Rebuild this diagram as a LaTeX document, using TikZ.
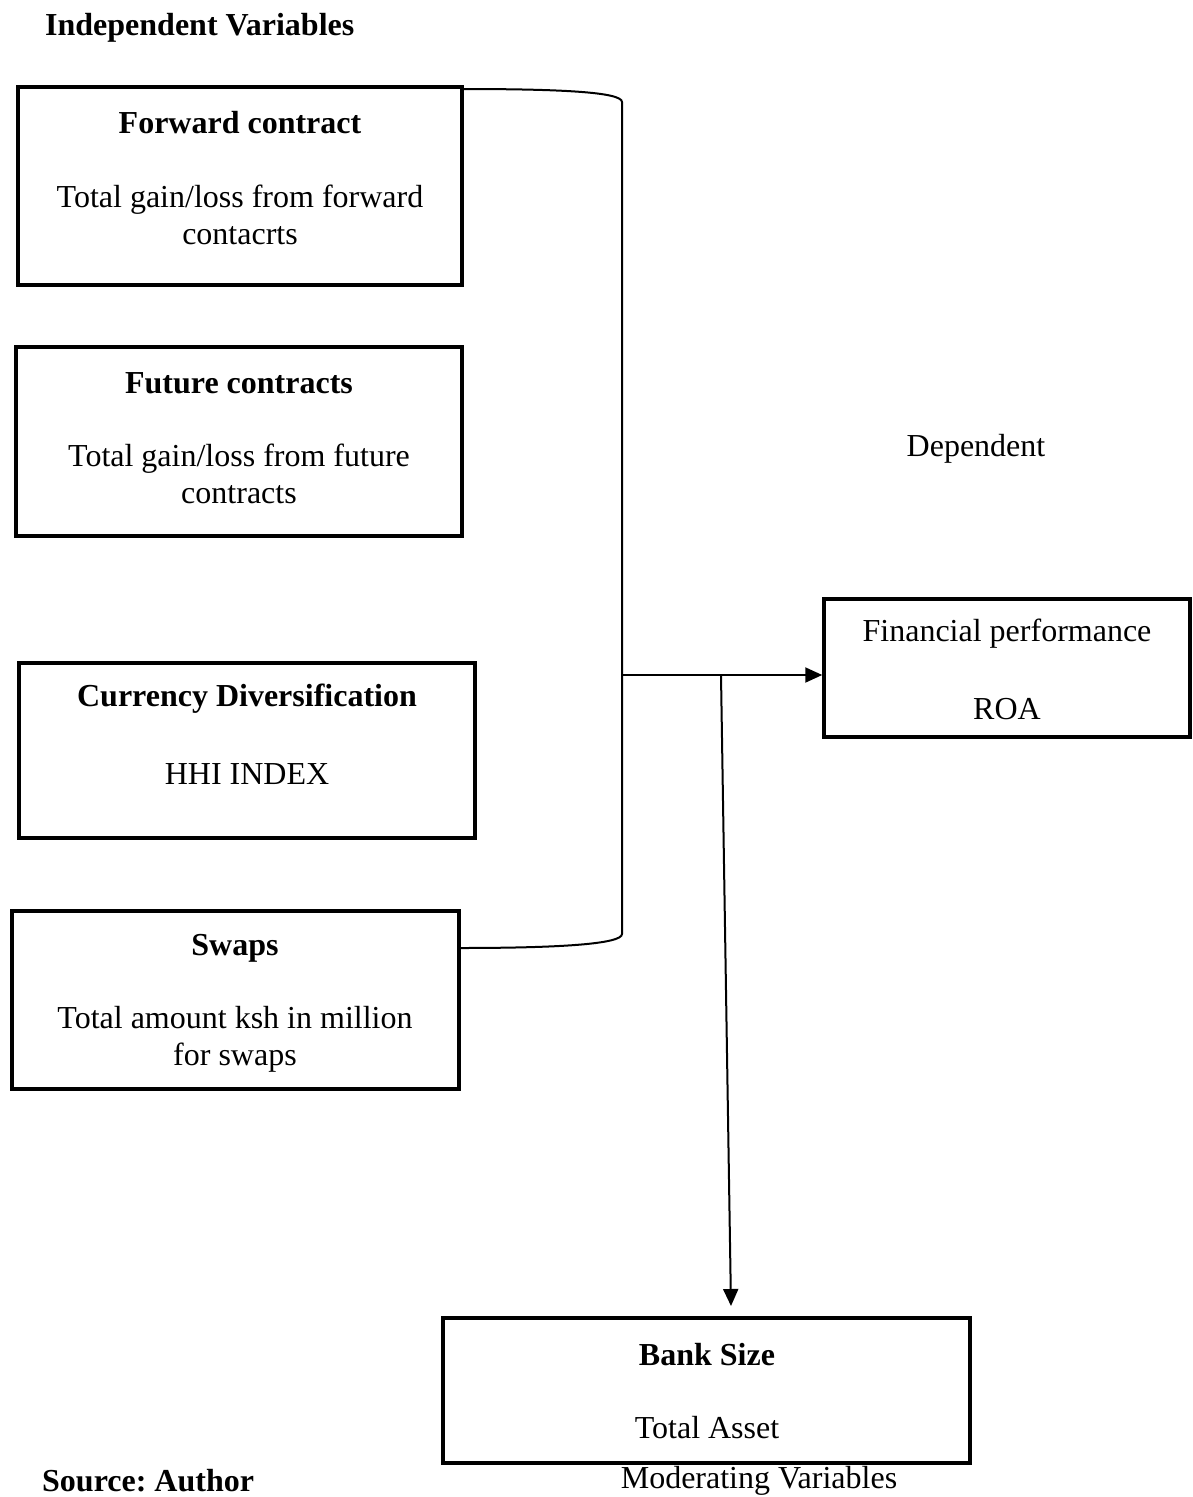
\documentclass[tikz,border=0pt]{standalone}
\usepackage{fontspec}
\setmainfont{Liberation Serif}
\usetikzlibrary{arrows.meta}
\frenchspacing
\begin{document}
\begin{tikzpicture}[x=1pt,y=-1pt,
  box/.style={draw,line width=3.5pt,rectangle,inner sep=0pt},
  txt/.style={font=\fontsize{32}{37}\selectfont,align=center,inner sep=0pt,yshift=-3pt},
  ttl/.style={font=\fontsize{32}{37}\selectfont\bfseries,align=center,inner sep=0pt,yshift=-3pt},
  conn/.style={line width=2pt},
  arr/.style={line width=2pt,-{Triangle[length=17pt,width=15pt]}}]
\useasboundingbox (0,0) rectangle (1192,1497);
% boxes
\node[box,minimum width=444pt,minimum height=198pt] (fc) at (240,186) {};
\node[box,minimum width=446pt,minimum height=189pt] (fu) at (239,441.5) {};
\node[box,minimum width=456pt,minimum height=175pt] (cd) at (247,750.5) {};
\node[box,minimum width=447pt,minimum height=178pt] (sw) at (235.5,1000) {};
\node[box,minimum width=366pt,minimum height=138pt] (fp) at (1007,668) {};
\node[box,minimum width=527pt,minimum height=145pt] (bs) at (706.5,1390.5) {};
% texts
\node[ttl,anchor=west] (t0) at (45,25) {Independent Variables};
\node[ttl] (t1) at (240,120) {Forward contract};
\node[txt] (t1b) at (240,211.5) {Total gain/loss from forward\\contacrts};
\node[ttl] (t2) at (239,380) {Future contracts};
\node[txt] (t2b) at (239,471) {Total gain/loss from future\\contracts};
\node[ttl] (t3) at (247,696) {Currency Diversification};
\node[txt] (t3b) at (247,771) {HHI INDEX};
\node[ttl] (t4) at (235,945) {Swaps};
\node[txt] (t4b) at (235,1036.5) {Total amount ksh in million\\for swaps};
\node[txt] (t5) at (1007,631) {Financial performance};
\node[txt] (t5b) at (1007,706) {ROA};
\node[txt] (t6) at (976,446) {Dependent};
\node[ttl] (t7) at (707,1352) {Bank Size};
\node[txt] (t7b) at (707,1425) {Total Asset};
\node[ttl,anchor=west] (t8) at (42,1478) {Source: Author};
\node[txt] (t9) at (759,1478) {Moderating Variables};
% connectors
\coordinate (a) at (462,89);
\coordinate (b) at (622,102);
\coordinate (c) at (622,934);
\coordinate (d) at (459,948);
\coordinate (j) at (622,675);
\coordinate (k) at (721,675);
\coordinate (kt) at (731,1306);
\draw[conn] (a) .. controls (560,89) and (622,92) .. (b) -- (c) .. controls (622,944) and (560,948) .. (d);
\draw[arr] (j) -- (j -| fp.west);
\draw[arr] (k) -- (kt);
\end{tikzpicture}
\end{document}
